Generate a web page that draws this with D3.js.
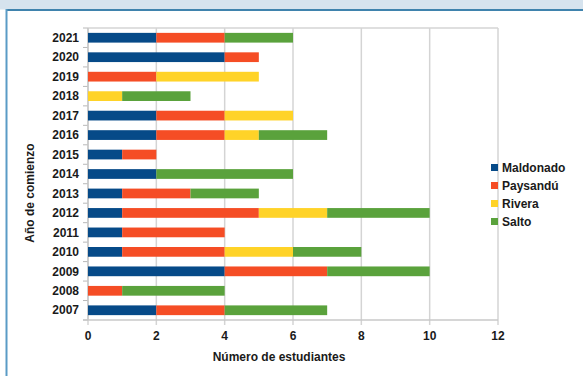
<!DOCTYPE html>
<html><head><meta charset="utf-8">
<script src="https://cdn.jsdelivr.net/npm/d3@7"></script>
<style>body{margin:0;background:#fff;}svg{display:block;font-family:"Liberation Sans",Arial,sans-serif;}</style>
</head><body><svg id="c" width="583" height="376"></svg>
<script>
const years = ["2021","2020","2019","2018","2017","2016","2015","2014","2013","2012","2011","2010","2009","2008","2007"];
const seriesNames = ["Maldonado","Paysandú","Rivera","Salto"];
const maldonado = [2,4,0,0,2,2,1,2,1,1,1,1,4,0,2];
const paysandu  = [2,1,2,0,2,2,1,0,2,4,3,3,3,1,2];
const rivera    = [0,0,3,1,2,1,0,0,0,2,0,2,0,0,0];
const salto     = [2,0,0,2,0,2,0,4,2,3,0,2,3,3,3];
const xTicks = [0,2,4,6,8,10,12];
const colors = ["#064a88","#f54d25","#ffd328","#5aa23c"];

const svg = d3.select("#c");
// frame
svg.append("rect").attr("x",0).attr("y",0).attr("width",583).attr("height",9.5).attr("fill","#d6e3ee");
svg.append("rect").attr("x",6).attr("y",9).attr("width",577).attr("height",2).attr("fill","#3f83ad");
svg.append("rect").attr("x",5.5).attr("y",9).attr("width",2).attr("height",367).attr("fill","#5a9bc6");

const L=88, R=498, T=28, B=320;
const x = d3.scaleLinear().domain([0,12]).range([L,R]);
const y = d3.scaleBand().domain(years).range([T,B]).paddingInner(0.5).paddingOuter(0.25);

const data = years.map((yr,i)=>({year:yr, Maldonado:maldonado[i], "Paysandú":paysandu[i], Rivera:rivera[i], Salto:salto[i]}));
const stack = d3.stack().keys(seriesNames)(data);

// grid
svg.append("g").selectAll("line").data(xTicks).join("line")
  .attr("x1",d=>x(d)).attr("x2",d=>x(d)).attr("y1",T).attr("y2",B+5)
  .attr("stroke","#d4d4d4").attr("stroke-width",1.5);
svg.append("line").attr("x1",L).attr("x2",R).attr("y1",T).attr("y2",T).attr("stroke","#d4d4d4").attr("stroke-width",1.5);
// category ticks
const bw = y.step();
svg.append("g").selectAll("line").data(d3.range(years.length+1)).join("line")
  .attr("x1",L-5).attr("x2",L).attr("y1",i=>T+i*bw).attr("y2",i=>T+i*bw)
  .attr("stroke","#b8b8b8").attr("stroke-width",1);
svg.append("line").attr("x1",L).attr("x2",L).attr("y1",T).attr("y2",B).attr("stroke","#c8c8c8").attr("stroke-width",1.5);
svg.append("line").attr("x1",L-5).attr("x2",R).attr("y1",B).attr("y2",B).attr("stroke","#c8c8c8").attr("stroke-width",1.5);

// bars
svg.append("g").selectAll("g").data(stack).join("g").attr("fill",(d,i)=>colors[i])
  .selectAll("rect").data(d=>d).join("rect")
  .attr("x",d=>x(d[0])).attr("width",d=>x(d[1])-x(d[0]))
  .attr("y",d=>y(d.data.year)).attr("height",y.bandwidth());

// labels
svg.append("g").selectAll("text").data(years).join("text")
  .attr("x",79).attr("y",d=>y(d)+y.bandwidth()/2).attr("dy","0.35em")
  .attr("text-anchor","end").attr("font-size",12).attr("font-weight","bold").attr("fill","#1a1a1a").text(d=>d);
svg.append("g").selectAll("text").data(xTicks).join("text")
  .attr("x",d=>x(d)).attr("y",340).attr("text-anchor","middle")
  .attr("font-size",12).attr("font-weight","bold").attr("fill","#1a1a1a").text(d=>d);
svg.append("text").attr("x",279).attr("y",361).attr("text-anchor","middle")
  .attr("font-size",12).attr("font-weight","bold").attr("fill","#1a1a1a").text("Número de estudiantes");
svg.append("text").attr("transform","translate(34,193) rotate(-90)").attr("text-anchor","middle")
  .attr("font-size",12).attr("font-weight","bold").attr("fill","#1a1a1a").text("Año de comienzo");

// legend
const lg = svg.append("g").selectAll("g").data(seriesNames).join("g")
  .attr("transform",(d,i)=>`translate(491,${168+i*18})`);
lg.append("rect").attr("x",0).attr("y",-4).attr("width",7).attr("height",7).attr("fill",(d,i)=>colors[i]);
lg.append("text").attr("x",11).attr("y",0).attr("dy","0.35em").attr("font-size",12).attr("font-weight","bold").attr("fill","#1a1a1a").text(d=>d);
</script></body></html>
